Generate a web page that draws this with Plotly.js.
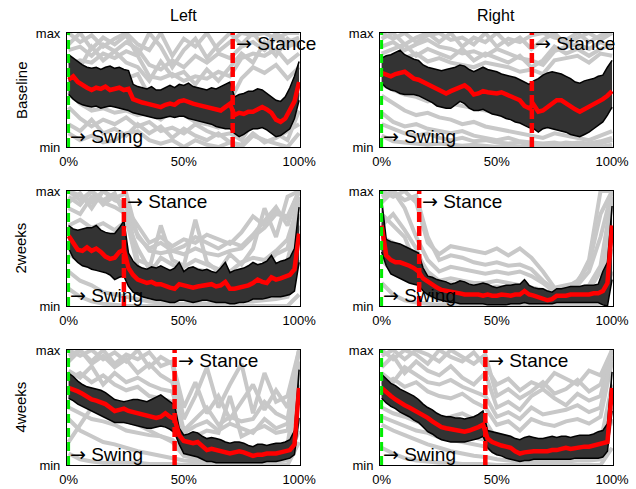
<!DOCTYPE html>
<html><head><meta charset="utf-8">
<script src="https://cdn.plot.ly/plotly-3.0.1.min.js"></script>
<style>body{margin:0;background:#fff;}#chart{width:636px;height:489px;}</style>
</head><body><div id="chart"></div>
<script>
// gait-cycle phase (% of cycle)
const phase = [0,2,4,6,8,10,12,14,16,18,20,22,24,26,28,30,32,34,36,38,40,42,44,46,48,50,52,54,56,58,60,62,64,66,68,70,72,74,76,78,80,82,84,86,88,90,92,94,96,98,100];
const grayPhase = [0,5,10,15,20,25,30,35,40,45,50,55,60,65,70,75,80,85,90,95,100];

const columnTitles = ['Left', 'Right'];
const rowTitles = ['Baseline', '2weeks', '4weeks'];
const xTickVals = [0, 50, 100];
const xTickText = ['0%', '50%', '100%'];
const yTickVals = [0, 100];
const yTickText = ['min', 'max'];

// stance onset (% of cycle)
const stanceStart = [71.2, 65.2, 24, 16.3, 46, 45];

// ---- Left / Baseline ----
const lbMean  = [59,62,57,54,52,50,52,51,53,50,51,52,50,51,42,40,39,38,37,36,35,37,38,37,40,41,39,38,37,36,35,34,33,32,35,38,28,30,29,31,31,33,35,33,30,24,22,25,32,40,57];
const lbUpper = [81,78,75,72,70,69,70,68,70,71,69,70,68,67,55,53,52,51,53,50,50,52,54,52,55,54,56,53,52,51,50,52,51,53,55,57,44,46,47,49,49,51,50,47,44,41,40,44,52,62,75];
const lbLower = [46,42,39,37,36,35,36,34,35,36,35,34,33,32,30,29,28,27,26,25,25,26,27,26,27,27,25,24,23,22,21,20,18,17,16,16,12,9,11,14,16,16,17,15,12,9,10,13,16,25,41];
const lbGray = [
  [100,92,98,88,95,100,90,85,100,80,95,88,100,84,92,100,98,100,95,100,100],
  [85,88,80,90,84,92,86,72,68,76,70,80,74,82,78,88,92,85,96,88,92],
  [72,76,74,82,78,84,80,62,60,64,58,62,60,66,62,78,82,80,86,74,82],
  [35,25,18,24,20,26,18,22,14,17,12,20,14,10,12,6,22,18,12,6,32],
  [48,38,32,34,30,32,28,30,24,32,28,22,20,17,22,28,32,38,30,22,48],
  [12,6,10,4,6,12,14,6,3,6,0,6,2,0,4,0,10,6,3,0,12],
  [60,55,58,62,56,60,64,45,40,44,36,42,38,35,40,60,70,65,72,60,70],
  [90,100,86,96,90,98,80,100,88,70,85,95,78,90,100,90,100,88,100,92,96],
  [78,70,88,76,84,74,70,58,75,62,66,55,68,58,70,82,74,92,80,95,88],
  [20,14,24,12,16,10,20,12,18,8,16,10,6,12,4,2,12,4,8,14,20]
];

// ---- Right / Baseline ----
const rbMean  = [65,64,62,64,65,66,63,60,59,57,56,54,52,50,47,49,51,53,54,51,46,47,49,48,47,47,48,46,45,43,41,36,34,37,31,32,35,39,41,41,38,36,33,31,33,35,37,40,42,45,49];
const rbUpper = [78,80,81,83,85,81,79,77,76,72,70,69,68,67,68,69,70,72,71,68,66,68,70,68,67,66,64,63,62,61,59,57,55,58,60,63,65,66,65,64,62,60,57,56,58,59,60,62,63,70,76];
const rbLower = [56,52,50,49,47,46,46,46,45,43,41,39,36,35,34,34,37,40,38,34,32,32,33,31,29,28,27,25,24,22,21,19,17,16,13,16,17,16,15,14,13,11,10,9,11,13,16,19,22,28,35];
const rbGray = [
  [100,95,100,92,98,100,94,96,90,100,88,95,92,98,100,96,94,100,92,98,100],
  [88,92,85,90,94,88,86,82,84,80,86,82,78,76,72,84,88,90,86,92,88],
  [76,80,78,82,75,78,74,72,70,74,72,70,66,68,64,76,78,80,74,82,80],
  [45,38,32,28,30,26,24,20,22,18,16,14,12,10,8,12,10,8,6,10,14],
  [30,22,18,20,16,14,12,14,10,8,6,8,5,4,3,4,2,4,3,5,8],
  [55,50,46,44,40,42,38,36,34,32,30,28,26,24,20,30,28,26,24,30,35],
  [10,5,4,3,2,3,2,1,2,1,0,1,0,0,0,1,0,0,1,0,2],
  [95,100,90,96,100,92,100,88,96,92,100,90,96,86,94,100,90,96,100,94,100],
  [82,86,90,80,86,82,78,86,76,82,78,74,80,70,76,88,82,86,80,86,90],
  [20,16,12,10,12,8,6,8,5,6,4,3,4,2,2,2,4,3,2,3,6]
];

// ---- Left / 2weeks ----
const l2Mean  = [61,55,49,48,51,48,50,47,43,41,42,47,49,33,27,23,21,20,21,19,19,17,16,15,19,18,17,16,17,18,18,19,17,18,21,15,15,16,16,18,20,23,21,20,25,23,24,25,27,32,63];
const l2Upper = [70,67,66,67,68,68,70,66,64,63,63,68,74,46,39,35,33,32,34,33,35,33,31,33,38,30,33,34,32,31,32,30,29,33,38,29,31,32,33,35,38,36,37,39,44,37,39,40,42,50,86];
const l2Lower = [50,42,38,35,34,32,31,30,29,27,23,25,26,17,12,10,8,7,6,5,5,4,3,3,5,5,4,3,4,5,5,4,3,3,3,2,2,3,3,4,6,6,6,7,8,8,8,9,10,13,38];
const l2Gray = [
  [100,92,100,88,96,85,70,55,60,52,58,55,62,58,54,64,78,70,82,76,100],
  [85,80,95,90,86,80,62,48,46,48,45,50,46,44,48,50,60,68,80,78,100],
  [90,98,85,100,92,88,40,36,32,30,34,40,36,32,30,38,42,40,48,58,90],
  [45,40,38,34,36,30,26,22,20,20,18,22,20,18,22,20,24,26,30,32,70],
  [30,22,18,12,10,8,6,4,3,2,2,3,2,2,3,4,4,5,6,8,40],
  [70,75,68,72,66,74,50,32,70,40,35,75,38,30,45,36,50,85,60,95,100],
  [15,8,4,2,1,0,0,0,0,0,0,0,0,0,0,0,0,0,0,0,10],
  [100,96,90,100,94,98,60,50,55,48,52,60,55,50,56,52,62,74,86,70,100],
  [60,52,50,46,44,40,30,26,28,24,26,28,24,22,26,24,28,30,34,40,80],
  [95,88,100,92,98,76,34,28,42,36,30,32,30,26,28,30,34,36,45,50,95]
];

// ---- Right / 2weeks ----
const r2Mean  = [70,44,40,38,38,37,35,33,30,24,21,18,16,14,13,12,11,11,10,10,10,10,9,10,9,9,10,9,9,10,10,13,10,9,8,6,5,6,9,9,9,10,10,10,10,10,11,11,13,20,70];
const r2Upper = [93,58,56,55,54,52,50,48,46,33,26,25,23,22,21,19,20,22,21,19,18,19,20,19,17,16,17,18,18,19,19,23,18,16,15,15,13,12,15,15,16,17,17,17,18,18,18,19,30,38,87];
const r2Lower = [47,35,28,26,24,22,20,19,18,13,10,8,6,5,4,3,3,2,2,2,2,2,2,1,1,1,1,1,2,2,2,3,2,2,2,2,2,2,3,3,3,3,3,3,3,3,3,3,1,0,23];
const r2Gray = [
  [100,95,100,90,55,45,52,50,48,46,50,44,50,42,30,16,18,20,40,100,100],
  [90,100,85,60,40,30,34,32,30,28,30,28,30,26,20,12,14,18,30,60,100],
  [60,55,50,46,30,22,24,22,20,20,22,20,18,16,14,10,12,14,18,35,95],
  [40,30,25,20,14,8,6,4,4,3,3,3,3,2,2,2,3,4,5,10,60],
  [80,70,60,35,20,12,10,10,8,8,9,8,8,8,6,4,6,8,10,15,90],
  [20,10,5,3,2,1,1,0,0,0,0,0,0,0,0,0,0,1,1,2,30],
  [95,100,92,96,60,40,44,42,38,36,38,35,36,32,22,14,16,22,36,80,100],
  [70,80,66,50,26,18,20,18,16,16,17,16,15,14,12,8,10,12,14,30,95],
  [50,40,36,28,10,5,4,3,3,2,2,2,2,2,1,1,1,2,2,5,50]
];

// ---- Left / 4weeks ----
const l4Mean  = [67,66,64,62,59,57,56,55,53,50,47,48,49,47,46,45,44,43,42,41,42,45,42,40,26,21,20,19,20,16,13,14,13,12,11,10,11,12,11,9,8,9,9,10,10,10,11,12,13,18,67];
const l4Upper = [80,77,73,70,68,67,66,65,63,60,57,56,55,56,57,57,56,55,57,59,61,58,55,52,32,26,27,29,28,25,23,24,23,22,20,19,20,20,19,17,16,18,18,17,18,19,19,20,22,30,83];
const l4Lower = [58,56,53,51,49,47,45,43,41,39,37,37,37,36,35,34,33,32,32,33,34,33,31,28,18,10,9,8,7,5,3,3,2,2,2,2,2,2,2,2,2,2,2,3,3,3,4,5,6,9,41];
const l4Gray = [
  [100,95,100,92,98,90,100,85,94,88,40,60,85,50,70,88,45,80,55,60,100],
  [90,100,88,95,85,92,80,88,78,72,30,40,50,35,42,38,40,55,45,40,100],
  [75,80,72,78,70,65,68,60,58,55,22,25,30,28,60,25,30,34,28,30,90],
  [50,45,40,38,35,30,28,26,25,22,12,14,12,10,10,9,8,10,12,14,70],
  [40,30,25,20,18,15,12,10,8,6,4,3,2,2,2,2,2,2,3,4,40],
  [20,35,50,45,40,38,35,30,25,20,8,6,4,3,3,3,3,4,4,5,30],
  [10,5,3,2,2,2,2,1,1,1,0,0,0,0,0,0,0,0,0,0,20],
  [95,100,90,100,88,96,92,98,86,90,50,72,45,60,40,55,70,48,65,50,100],
  [82,76,86,70,80,72,76,70,66,64,28,34,38,30,36,32,28,40,32,36,90],
  [60,55,58,50,48,46,42,40,38,36,16,18,16,14,14,12,12,14,14,18,80]
];

// ---- Right / 4weeks ----
const r4Mean  = [67,63,60,57,54,52,50,48,46,43,41,38,35,33,32,31,31,30,29,30,31,33,35,23,20,18,17,16,15,12,10,11,12,12,12,12,12,13,13,14,15,14,15,15,16,16,17,18,18,20,67];
const r4Upper = [79,75,71,69,66,64,62,60,57,53,50,48,45,43,42,42,41,41,40,41,42,44,47,30,29,28,27,26,25,23,22,24,25,24,23,23,24,25,24,25,25,24,25,26,26,26,27,29,30,36,81];
const r4Lower = [58,54,51,49,46,44,42,39,37,33,29,27,24,22,21,20,20,20,20,21,22,23,25,15,11,9,8,6,5,4,3,4,4,5,5,5,5,5,5,5,5,5,6,6,6,6,6,6,7,12,47];
const r4Gray = [
  [100,92,100,96,88,100,94,90,98,86,70,75,65,72,68,80,75,70,82,78,100],
  [85,95,80,90,82,78,86,76,70,80,50,55,48,60,66,58,52,62,56,60,100],
  [70,75,68,72,64,60,58,62,55,50,35,38,30,40,36,34,38,40,36,42,90],
  [50,45,42,38,34,30,28,26,24,22,14,12,10,12,10,10,12,11,12,14,60],
  [35,30,26,22,18,15,12,10,8,7,5,4,3,3,3,3,3,4,4,5,40],
  [60,65,55,50,45,40,42,45,40,38,22,18,15,14,12,14,15,16,18,20,70],
  [15,10,6,4,3,2,2,1,1,1,0,0,0,0,0,0,0,0,0,0,15],
  [95,100,92,100,96,90,100,94,88,96,60,66,58,64,72,62,66,74,64,70,100],
  [80,72,85,78,72,70,74,68,64,60,42,46,40,50,44,46,48,52,46,50,95],
  [42,38,34,30,28,24,22,20,18,16,10,8,7,8,7,7,8,8,9,10,50]
];

const panels = [
  {mean: lbMean, upper: lbUpper, lower: lbLower, gray: lbGray},
  {mean: rbMean, upper: rbUpper, lower: rbLower, gray: rbGray},
  {mean: l2Mean, upper: l2Upper, lower: l2Lower, gray: l2Gray},
  {mean: r2Mean, upper: r2Upper, lower: r2Lower, gray: r2Gray},
  {mean: l4Mean, upper: l4Upper, lower: l4Lower, gray: l4Gray},
  {mean: r4Mean, upper: r4Upper, lower: r4Lower, gray: r4Gray}
];

const xDomains = [[0.1053, 0.4717], [0.5975, 0.9638]];
const yDomains = [[0.6994, 0.9325], [0.3742, 0.6094], [0.049, 0.2842]];

const data = [];
const layout = {
  width: 636, height: 489,
  margin: {l: 0, r: 0, t: 0, b: 0},
  paper_bgcolor: '#ffffff', plot_bgcolor: '#ffffff',
  showlegend: false,
  font: {family: 'Arial, Liberation Sans, sans-serif', color: '#000'},
  annotations: [], shapes: []
};

const arrow = '<span style="font-family:\'DejaVu Sans\'">\u2192</span>';

panels.forEach((p, i) => {
  const n = i + 1;
  const xa = n === 1 ? 'x' : 'x' + n;
  const ya = n === 1 ? 'y' : 'y' + n;
  const col = i % 2, row = Math.floor(i / 2);
  p.gray.forEach(g => data.push({
    x: grayPhase, y: g, xaxis: xa, yaxis: ya, type: 'scatter', mode: 'lines',
    line: {color: '#c8c8c8', width: 4}, hoverinfo: 'skip'
  }));
  data.push({x: phase, y: p.lower, xaxis: xa, yaxis: ya, type: 'scatter', mode: 'lines',
    line: {color: '#000', width: 1.5}, hoverinfo: 'skip'});
  data.push({x: phase, y: p.upper, xaxis: xa, yaxis: ya, type: 'scatter', mode: 'lines',
    fill: 'tonexty', fillcolor: '#333333', line: {color: '#000', width: 1.5}, hoverinfo: 'skip'});
  data.push({x: phase, y: p.mean, xaxis: xa, yaxis: ya, type: 'scatter', mode: 'lines',
    line: {color: '#ff0000', width: 4.5}, hoverinfo: 'skip'});
  data.push({x: [0, 0], y: [0, 100], xaxis: xa, yaxis: ya, type: 'scatter', mode: 'lines',
    line: {color: '#00ee00', width: 3, dash: '9px,5px'}, hoverinfo: 'skip'});
  data.push({x: [stanceStart[i], stanceStart[i]], y: [0, 100], xaxis: xa, yaxis: ya, type: 'scatter', mode: 'lines',
    line: {color: '#ff0000', width: 4.5, dash: '10px,4px'}, hoverinfo: 'skip'});

  const xk = n === 1 ? 'xaxis' : 'xaxis' + n;
  const yk = n === 1 ? 'yaxis' : 'yaxis' + n;
  layout[xk] = {
    domain: xDomains[col], anchor: ya, range: [-0.7, 100.4],
    tickvals: xTickVals, ticktext: xTickText, ticks: '',
    tickfont: {size: 13, color: '#000'}, ticklabelstandoff: 2,
    showgrid: false, zeroline: false, showline: true, mirror: true,
    linecolor: '#000', linewidth: 1, layer: 'below traces', fixedrange: true
  };
  layout[yk] = {
    domain: yDomains[row], anchor: xa, range: [0, 100],
    tickvals: yTickVals, ticktext: yTickText, ticks: '',
    tickfont: {size: 13, color: '#000'}, ticklabelstandoff: 3,
    showgrid: false, zeroline: false, showline: true, mirror: true,
    linecolor: '#000', linewidth: 1, layer: 'below traces', fixedrange: true
  };
  layout.annotations.push({
    x: stanceStart[i], y: 100, xref: xa, yref: ya, xanchor: 'left', yanchor: 'top',
    xshift: 1, yshift: 3, text: arrow + ' Stance', showarrow: false,
    font: {size: 19, color: '#000'}
  });
  layout.annotations.push({
    x: 0, y: 0, xref: xa, yref: ya, xanchor: 'left', yanchor: 'bottom',
    xshift: -1, yshift: -2, text: arrow + ' Swing', showarrow: false,
    font: {size: 19, color: '#000'}
  });
});

columnTitles.forEach((t, c) => layout.annotations.push({
  x: (xDomains[c][0] + xDomains[c][1]) / 2, y: 1 - 15 / 489, xref: 'paper', yref: 'paper',
  xanchor: 'center', yanchor: 'middle', text: t, showarrow: false, font: {size: 16, color: '#000'}
}));
rowTitles.forEach((t, r) => layout.annotations.push({
  x: 21 / 636, y: (yDomains[r][0] + yDomains[r][1]) / 2, xref: 'paper', yref: 'paper',
  xanchor: 'center', yanchor: 'middle', text: t, textangle: -90, showarrow: false,
  font: {size: 15, color: '#000'}
}));

Plotly.newPlot('chart', data, layout, {displayModeBar: false, staticPlot: true});
</script>
</body></html>
